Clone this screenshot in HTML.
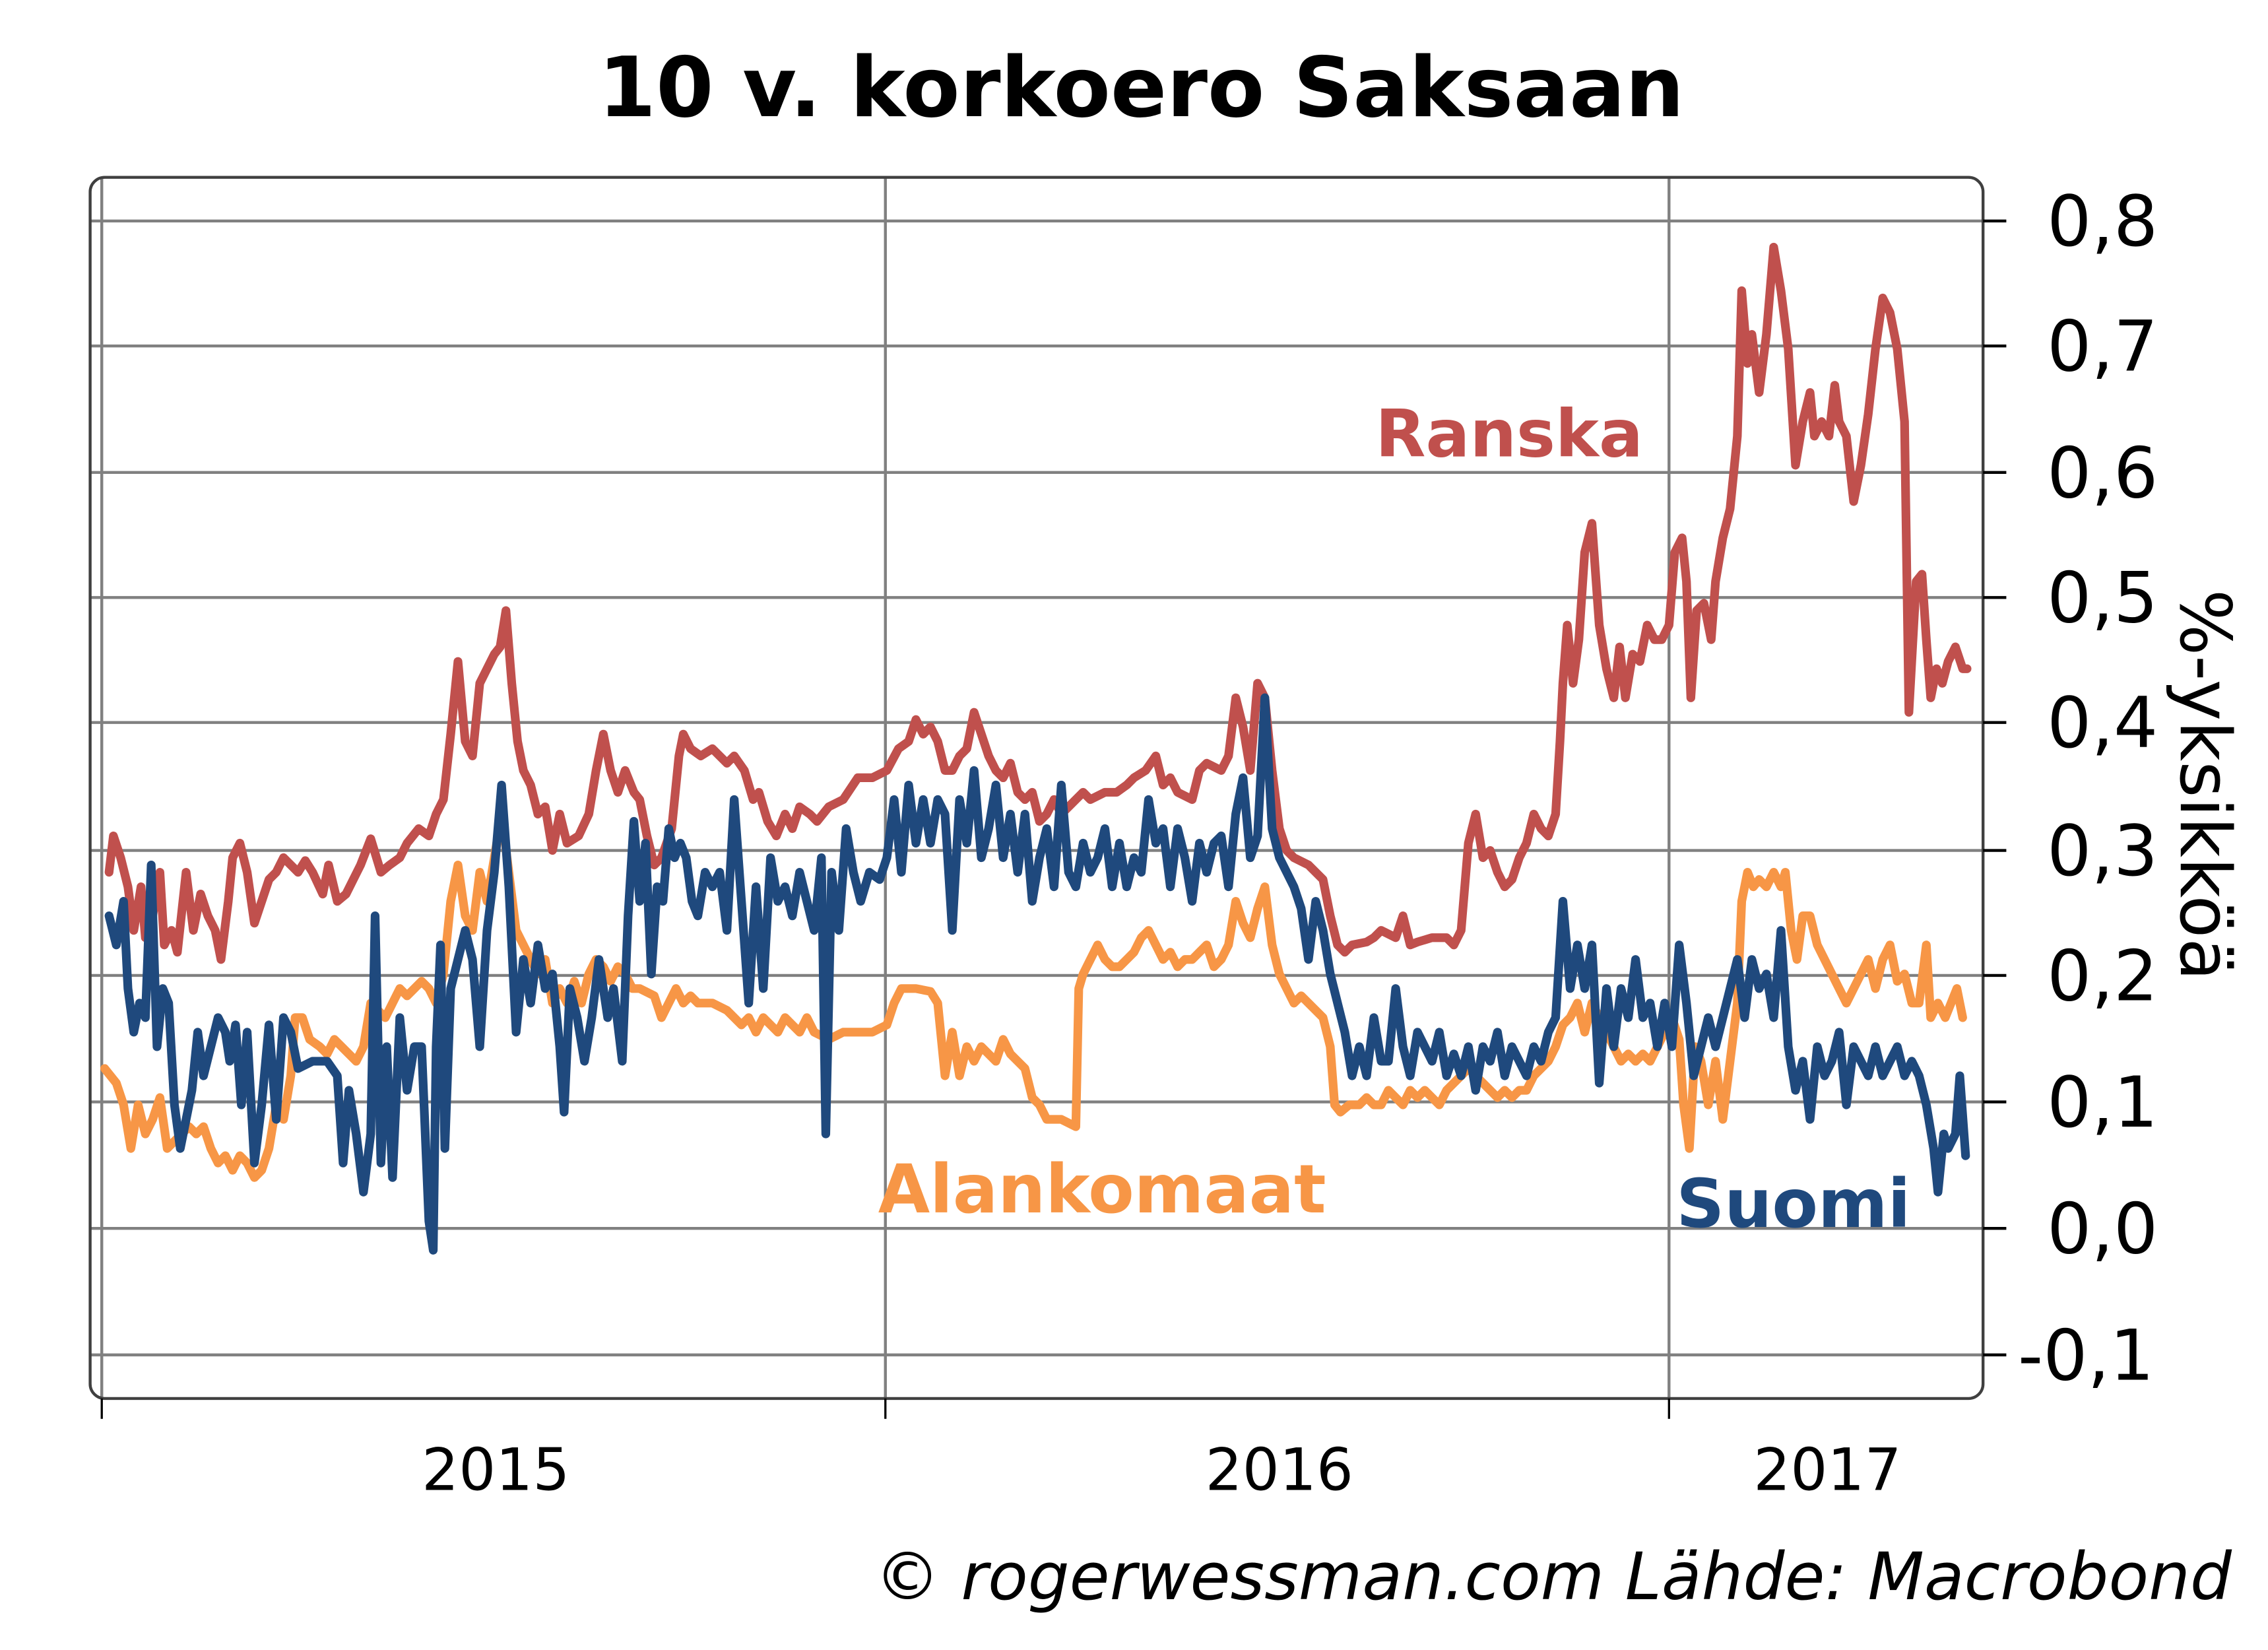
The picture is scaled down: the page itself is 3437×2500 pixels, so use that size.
<!DOCTYPE html>
<html><head><meta charset="utf-8"><style>
html,body{margin:0;padding:0;background:#fff;}
svg{display:block;}
text{font-family:"DejaVu Sans","Liberation Sans",sans-serif;}
</style></head><body>
<svg width="3437" height="2500" viewBox="0 0 1560 1135" xmlns="http://www.w3.org/2000/svg" preserveAspectRatio="none">
<text x="785" y="80" text-anchor="middle" font-size="57" font-weight="bold" fill="#000">10 v. korkoero Saksaan</text>
<g stroke="#808080" stroke-width="2" fill="none">
<line x1="62" y1="152" x2="1364" y2="152"/><line x1="62" y1="238" x2="1364" y2="238"/><line x1="62" y1="325" x2="1364" y2="325"/><line x1="62" y1="411" x2="1364" y2="411"/><line x1="62" y1="497" x2="1364" y2="497"/><line x1="62" y1="585" x2="1364" y2="585"/><line x1="62" y1="671" x2="1364" y2="671"/><line x1="62" y1="758" x2="1364" y2="758"/><line x1="62" y1="845" x2="1364" y2="845"/><line x1="62" y1="932" x2="1364" y2="932"/>
<line x1="70" y1="122" x2="70" y2="962"/><line x1="609" y1="122" x2="609" y2="962"/><line x1="1148" y1="122" x2="1148" y2="962"/>
</g>
<rect x="62" y="122" width="1302" height="840" rx="10" fill="none" stroke="#404040" stroke-width="2"/>
<g stroke="#000" stroke-width="2">
<line x1="1364" y1="152" x2="1380" y2="152"/><line x1="1364" y1="238" x2="1380" y2="238"/><line x1="1364" y1="325" x2="1380" y2="325"/><line x1="1364" y1="411" x2="1380" y2="411"/><line x1="1364" y1="497" x2="1380" y2="497"/><line x1="1364" y1="585" x2="1380" y2="585"/><line x1="1364" y1="671" x2="1380" y2="671"/><line x1="1364" y1="758" x2="1380" y2="758"/><line x1="1364" y1="845" x2="1380" y2="845"/><line x1="1364" y1="932" x2="1380" y2="932"/>
<line x1="70" y1="962" x2="70" y2="976" stroke-width="1.5"/><line x1="609" y1="962" x2="609" y2="976" stroke-width="1.5"/><line x1="1148" y1="962" x2="1148" y2="976" stroke-width="1.5"/>
</g>
<g font-size="48" fill="#000">
<text x="1408" y="169">0,8</text><text x="1408" y="255">0,7</text><text x="1408" y="342">0,6</text><text x="1408" y="428">0,5</text><text x="1408" y="514">0,4</text><text x="1408" y="602">0,3</text><text x="1408" y="688">0,2</text><text x="1408" y="775">0,1</text><text x="1408" y="862">0,0</text><text x="1388" y="949">-0,1</text>
</g>
<g font-size="40" fill="#000" text-anchor="middle">
<text x="341" y="1025">2015</text><text x="880" y="1025">2016</text><text x="1257" y="1025">2017</text>
</g>
<text transform="translate(1500,540) rotate(90)" text-anchor="middle" font-size="48" fill="#000">%-yksikköä</text>
<text x="1535" y="1100" text-anchor="end" font-size="45" font-style="italic" fill="#000">© rogerwessman.com Lähde: Macrobond</text>
<g fill="none" stroke-width="6" stroke-linejoin="round" stroke-linecap="round">
<polyline stroke="#c0504d" points="75,600 78,575 83,590 88,610 92,640 97,610 100,645 105,630 110,600 113,650 118,640 122,655 128,600 133,640 138,615 143,630 148,640 152,660 157,620 160,590 165,580 170,600 175,635 180,620 185,605 190,600 195,590 200,595 205,600 210,592 215,600 222,615 226,595 232,620 238,615 243,605 248,595 255,577 262,600 268,595 275,590 280,580 288,570 295,575 300,560 305,550 310,505 315,455 320,510 325,520 330,470 335,460 340,450 344,445 348,420 352,470 356,510 360,530 365,540 370,560 375,555 380,585 385,560 390,580 398,575 405,560 410,530 415,505 420,530 425,545 430,530 436,545 440,550 445,575 450,595 455,590 462,570 467,520 470,505 475,515 482,520 490,515 500,525 505,520 512,530 518,550 522,545 528,565 534,575 540,560 545,570 550,555 557,560 562,565 570,555 580,550 590,535 600,535 610,530 618,515 625,510 630,495 635,505 640,500 645,510 650,530 655,530 660,520 665,515 670,490 675,505 680,520 685,530 690,535 695,525 700,545 705,550 710,545 715,565 720,560 725,550 730,560 735,555 740,550 745,545 750,550 760,545 768,545 775,540 780,535 788,530 795,520 800,540 805,535 810,545 820,550 825,530 830,525 840,530 845,520 850,480 855,500 860,530 865,470 870,480 875,530 880,570 885,585 890,590 900,595 910,605 915,630 920,650 925,655 930,650 940,648 945,645 950,640 960,645 965,630 970,650 975,648 985,645 995,645 1000,650 1005,640 1010,580 1015,560 1020,590 1025,585 1030,600 1035,610 1040,605 1045,590 1050,580 1055,560 1060,570 1065,575 1070,560 1073,510 1075,470 1078,430 1082,470 1086,440 1090,380 1095,360 1100,430 1105,460 1110,480 1114,445 1118,480 1123,450 1128,455 1133,430 1138,440 1143,440 1148,430 1152,380 1157,370 1160,400 1163,480 1167,420 1172,415 1177,440 1180,400 1185,370 1190,350 1195,300 1198,200 1202,250 1205,230 1210,270 1215,230 1220,170 1225,200 1230,240 1235,320 1240,290 1245,270 1248,300 1253,290 1258,300 1262,265 1265,290 1270,300 1275,345 1280,320 1285,285 1290,240 1295,205 1300,215 1305,240 1310,290 1313,490 1318,400 1322,395 1325,440 1328,480 1332,460 1336,470 1340,455 1345,445 1350,460 1353,460"/>
<polyline stroke="#f79646" points="72,735 76,740 80,745 85,760 90,790 95,760 100,780 105,770 110,755 115,790 120,785 125,780 130,775 135,780 140,775 145,790 150,800 155,795 160,805 165,795 170,800 175,810 180,805 185,790 190,760 195,770 200,740 203,700 208,700 213,715 220,720 225,725 230,715 235,720 240,725 245,730 250,720 255,690 260,695 265,700 270,690 275,680 280,685 285,680 290,675 295,680 300,690 305,670 310,620 315,595 320,630 325,640 330,600 335,620 340,590 345,560 350,600 355,640 360,650 365,660 370,670 375,660 380,690 385,680 390,690 395,675 400,690 405,670 410,660 415,665 420,675 425,665 430,670 435,680 440,680 450,685 455,700 460,690 465,680 470,690 475,685 480,690 490,690 500,695 505,700 510,705 515,700 520,710 525,700 530,705 535,710 540,700 545,705 550,710 555,700 560,710 570,715 580,710 590,710 600,710 610,705 615,690 620,680 625,680 630,680 640,682 645,690 650,740 655,710 660,740 665,720 670,730 675,720 680,725 685,730 690,715 695,725 700,730 705,735 710,755 715,760 720,770 730,770 740,775 742,680 745,670 750,660 755,650 760,660 765,665 770,665 775,660 780,655 785,645 790,640 795,650 800,660 805,655 810,665 815,660 820,660 825,655 830,650 835,665 840,660 845,650 850,620 855,635 860,645 865,625 870,610 875,650 880,670 885,680 890,690 895,685 900,690 905,695 910,700 915,720 918,760 922,765 928,760 935,760 940,755 945,760 950,760 955,750 960,755 965,760 970,750 975,755 980,750 985,755 990,760 995,750 1000,745 1005,740 1010,735 1015,740 1020,745 1025,750 1030,755 1035,750 1040,755 1045,750 1050,750 1055,740 1060,735 1065,730 1070,720 1075,705 1080,700 1085,690 1090,710 1095,690 1100,700 1105,710 1110,720 1115,730 1120,725 1125,730 1130,725 1135,730 1140,720 1145,710 1150,700 1155,715 1158,760 1162,790 1166,720 1170,730 1175,760 1180,730 1185,770 1190,730 1195,690 1198,620 1202,600 1206,610 1210,605 1215,610 1220,600 1225,610 1228,600 1232,640 1236,660 1240,630 1245,630 1250,650 1255,660 1260,670 1265,680 1270,690 1275,680 1280,670 1285,660 1290,680 1295,660 1300,650 1305,675 1310,670 1315,690 1320,690 1325,650 1328,700 1333,690 1338,700 1342,690 1346,680 1350,700"/>
<polyline stroke="#1f497d" points="75,630 80,650 85,620 88,680 92,710 96,690 100,700 104,595 108,720 112,680 116,690 120,760 124,790 128,770 132,750 136,710 140,740 145,720 150,700 155,710 158,730 162,705 166,760 170,710 175,800 180,760 185,705 190,770 195,700 200,710 205,735 215,730 225,730 232,740 236,800 240,750 245,780 250,820 255,780 258,630 262,800 266,720 270,810 275,700 280,750 285,720 290,720 295,840 298,860 300,720 303,650 306,790 310,680 315,660 320,640 325,660 330,720 335,640 340,600 345,540 350,610 355,710 360,660 365,690 370,650 375,680 380,670 385,720 388,765 392,680 397,700 402,730 407,700 412,660 418,700 422,680 428,730 432,630 436,565 440,620 444,580 448,670 452,610 456,620 460,570 464,590 468,580 472,590 476,620 480,630 485,600 490,610 495,600 500,640 505,550 510,620 515,690 520,610 525,680 530,590 535,620 540,610 545,630 550,600 555,620 560,640 565,590 568,780 572,600 577,640 582,570 587,600 592,620 598,600 605,605 610,590 615,550 620,600 625,540 630,580 635,550 640,580 645,550 650,560 655,640 660,550 665,580 670,530 675,590 680,570 685,540 690,590 695,560 700,600 705,560 710,620 715,590 720,570 725,610 730,540 735,600 740,610 745,580 750,600 755,590 760,570 765,610 770,580 775,610 780,590 785,600 790,550 795,580 800,570 805,610 810,570 815,590 820,620 825,580 830,600 835,580 840,575 845,610 850,560 855,535 860,590 865,575 870,480 875,570 880,590 885,600 890,610 895,625 900,660 905,620 910,640 915,670 920,690 925,710 930,740 935,720 940,740 945,700 950,730 955,730 960,680 965,720 970,740 975,710 980,720 985,730 990,710 995,740 1000,725 1005,740 1010,720 1015,750 1020,720 1025,730 1030,710 1035,740 1040,720 1045,730 1050,740 1055,720 1060,730 1065,710 1070,700 1075,620 1080,680 1085,650 1090,680 1095,650 1100,745 1105,680 1110,720 1115,680 1120,700 1125,660 1130,700 1135,690 1140,720 1145,690 1150,720 1155,650 1160,690 1165,740 1170,720 1175,700 1180,720 1185,700 1190,680 1195,660 1200,700 1205,660 1210,680 1215,670 1220,700 1225,640 1230,720 1235,750 1240,730 1245,770 1250,720 1255,740 1260,730 1265,710 1270,760 1275,720 1280,730 1285,740 1290,720 1295,740 1300,730 1305,720 1310,740 1315,730 1320,740 1325,760 1330,790 1333,820 1337,780 1340,790 1345,780 1348,740 1352,795"/>
</g>
<text x="946" y="314" font-size="45" font-weight="bold" fill="#c0504d">Ranska</text>
<text x="604" y="834" font-size="46" font-weight="bold" fill="#f79646">Alankomaat</text>
<text x="1153" y="844" font-size="46" font-weight="bold" fill="#1f497d">Suomi</text>
</svg>
</body></html>
